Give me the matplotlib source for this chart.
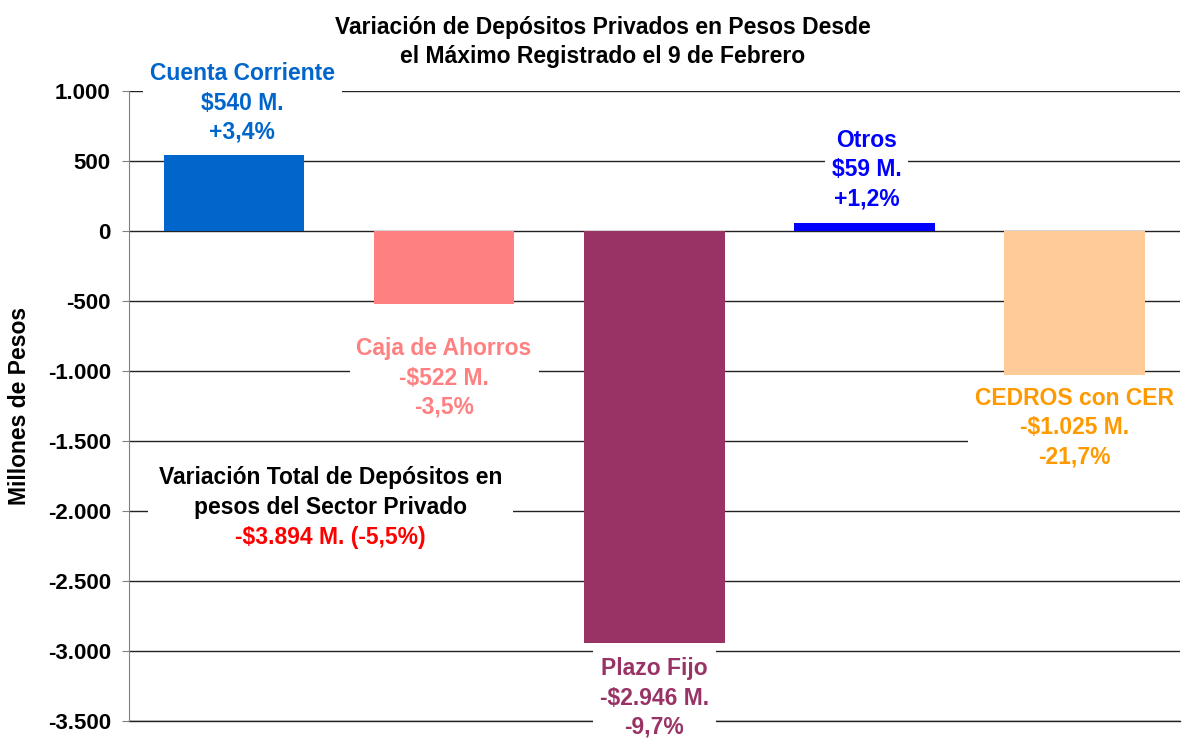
import matplotlib.pyplot as plt
from matplotlib.ticker import FuncFormatter

plt.rcParams['font.family'] = ['Liberation Sans', 'DejaVu Sans']
plt.rcParams['font.weight'] = 'bold'

# Data
categorias = ['Cuenta Corriente', 'Caja de Ahorros', 'Plazo Fijo', 'Otros', 'CEDROS con CER']
variacion = [540, -522, -2946, 59, -1025]
montos = ['$540 M.', '-$522 M.', '-$2.946 M.', '$59 M.', '-$1.025 M.']
porcentajes = ['+3,4%', '-3,5%', '-9,7%', '+1,2%', '-21,7%']
colores_barra = ['#0066CC', '#FF8080', '#993366', '#0000FF', '#FFCC99']
colores_texto = ['#0066CC', '#FF8080', '#993366', '#0000FF', '#FF9900']

total_titulo = 'Variación Total de Depósitos en\npesos del Sector Privado'
total_valor = '-$3.894 M. (-5,5%)'

# label positions (data coords)
label_x = [0.04, 1.0, 2.0, 3.01, 4.0]
label_y = [914, -1050, -3336, 436, -1407]

fig = plt.figure(figsize=(11.82, 7.38), dpi=100)
ax = fig.add_axes([0.109, 0.023, 0.889, 0.8537])

x = list(range(len(categorias)))
ax.bar(x, variacion, width=0.67, color=colores_barra, zorder=2)

ax.set_xlim(-0.5, 4.5)
ax.set_ylim(-3500, 1000)
ax.set_yticks(range(-3500, 1001, 500))
ax.yaxis.set_major_formatter(FuncFormatter(lambda v, p: f'{int(v):,}'.replace(',', '.')))
ax.set_xticks([])
ax.grid(True, axis='y', color='#222222', linewidth=1, zorder=0)
ax.set_axisbelow(True)
# bottom line at -3.500 (not clipped)
ax.axhline(-3500, color='#222222', linewidth=1, clip_on=False, zorder=1)

for s in ['top', 'right', 'bottom']:
    ax.spines[s].set_visible(False)
ax.spines['left'].set_color('#808080')
ax.tick_params(axis='y', direction='out', length=5, color='#808080', labelsize=16, pad=8)
for t in ax.get_yticklabels():
    t.set_fontweight('bold')

ax.set_ylabel('Millones de Pesos', fontsize=16.5, fontweight='bold')
ax.yaxis.set_label_coords(-0.093, 0.5)

for i in range(len(categorias)):
    ax.text(label_x[i], label_y[i], f'{categorias[i]}\n{montos[i]}\n{porcentajes[i]}',
            ha='center', va='center', fontsize=16.5, fontweight='bold',
            color=colores_texto[i], linespacing=1.35, clip_on=False, zorder=3,
            bbox=dict(facecolor='white', edgecolor='none', pad=5))

# total label
ax.text(0.46, -1868, total_titulo,
        ha='center', va='center', fontsize=16.5, fontweight='bold', color='black',
        linespacing=1.35, zorder=3,
        bbox=dict(facecolor='white', edgecolor='none', pad=8))
ax.text(0.46, -2186, total_valor,
        ha='center', va='center', fontsize=16.5, fontweight='bold', color='#FF0000',
        zorder=4)

fig.text(0.51, 0.943, 'Variación de Depósitos Privados en Pesos Desde\nel Máximo Registrado el 9 de Febrero',
         ha='center', va='center', fontsize=16.5, fontweight='bold', linespacing=1.3)

fig.savefig('out.png', dpi=100)
